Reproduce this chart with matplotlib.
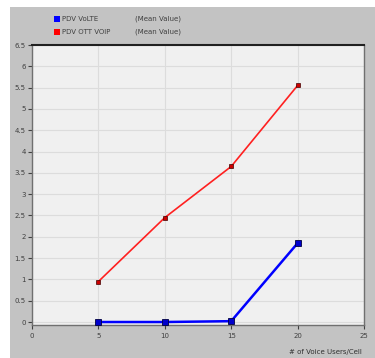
import matplotlib
matplotlib.use("Agg")
import matplotlib.pyplot as plt
from matplotlib.patches import Rectangle

users = [5, 10, 15, 20]
pdv_volte = [0.0, 0.0, 0.02, 1.85]
pdv_ott = [0.95, 2.45, 3.65, 5.55]
x_ticks = [0, 5, 10, 15, 20, 25]
y_ticks = [0, 0.5, 1, 1.5, 2, 2.5, 3, 3.5, 4, 4.5, 5, 5.5, 6, 6.5]
series_names = ["PDV VoLTE", "PDV OTT VOIP"]
stat_label = "(Mean Value)"
x_label = "# of Voice Users/Cell"

W, H = 375, 358
fig = plt.figure(figsize=(W / 100, H / 100), dpi=100)
fig.patch.set_facecolor("white")
fig.patches.append(Rectangle((10 / W, 0), 1 - 10 / W, 1 - 7 / H,
                             transform=fig.transFigure, facecolor="#c3c3c3",
                             edgecolor="none", zorder=-10))

ax = fig.add_axes([32 / W, 1 - 325 / H, (364 - 32) / W, (325 - 45) / H])
ax.set_facecolor("#f0f0f0")

ax.plot(users, pdv_volte, color="#0000ff", lw=1.8, marker="s", ms=4.5,
        mfc="#0000cc", mec="#000040", mew=0.6, zorder=3)
ax.plot(users, pdv_ott, color="#ff2020", lw=1.2, marker="s", ms=2.8,
        mfc="#cc0000", mec="#400000", mew=0.5, zorder=3)

ax.set_xlim(0, 25)
ax.set_ylim(-0.07, 6.5)
ax.set_xticks(x_ticks)
ax.set_yticks(y_ticks)
ax.set_xticklabels([str(v) for v in x_ticks])
ax.set_yticklabels([("%g" % v) for v in y_ticks])
ax.tick_params(axis="both", labelsize=5, colors="#404040", length=3, width=0.8,
               pad=1.5)
ax.tick_params(axis="x", pad=3)
ax.grid(True, color="#dcdcdc", lw=0.8)
ax.set_axisbelow(True)

for s in ["left", "bottom", "right"]:
    ax.spines[s].set_color("#707070")
    ax.spines[s].set_linewidth(1.0)
ax.spines["top"].set_color("#202020")
ax.spines["top"].set_linewidth(1.5)

fig.text(362 / W, 1 - 352 / H, x_label, fontsize=5, color="#303030",
         ha="right", va="center")

# legend
colors = ["#0000ff", "#ff0000"]
for i, (name, c) in enumerate(zip(series_names, colors)):
    y = 1 - (19 + 13 * i) / H
    fig.patches.append(Rectangle((54 / W, y - 3 / H), 6 / W, 6 / H,
                                 transform=fig.transFigure, facecolor=c,
                                 edgecolor="none"))
    fig.text(62 / W, y, name, fontsize=5, color="#404040", va="center")
    fig.text(135 / W, y, stat_label, fontsize=5, color="#404040", va="center")

fig.savefig("out.png", dpi=100, facecolor=fig.get_facecolor())
